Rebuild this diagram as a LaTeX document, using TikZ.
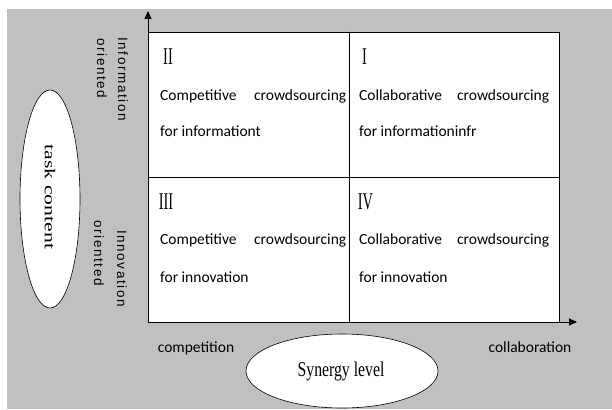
\documentclass[tikz,border=0pt]{standalone}
\usepackage{fontspec}
\setmainfont{Carlito}
\newfontfamily\serifR{Liberation Serif}
\newfontfamily\sideF[LetterSpace=12]{Liberation Sans}
\usetikzlibrary{shapes.geometric,arrows.meta}
\definecolor{bggray}{RGB}{192,192,192}
\tikzset{
  celltext/.style={font=\fontsize{15.5}{17}\selectfont, anchor=west, inner sep=0pt},
  numtext/.style={font=\serifR\fontsize{24}{26}\selectfont, inner sep=0pt, xscale=0.6},
  axislabel/.style={font=\fontsize{15.5}{17}\selectfont, inner sep=0pt},
  sidelabel/.style={font=\sideF\fontsize{13.5}{15}\selectfont, rotate=-90, anchor=west, inner sep=0pt},
  oval/.style={ellipse, draw=black, fill=white, line width=0.6pt, inner sep=0pt},
  axis/.style={line width=0.9pt, -{Triangle[length=8pt,width=7pt]}}
}
\begin{document}
\begin{tikzpicture}[x=1pt,y=-1pt]
\useasboundingbox (0,0) rectangle (612,409);
\fill[white] (0,0) rectangle (612,409);
\fill[bggray] (7,9) rectangle (612,409);
% grid
\draw[fill=white, line width=0.7pt] (148,32) rectangle (559,322);
\draw[line width=0.7pt] (349,32) -- (349,322);
\draw[line width=0.7pt] (148,177) -- (559,177);
% axes
\coordinate (O) at (148,322);
\coordinate (Ytip) at (148,11);
\coordinate (Xtip) at (577,322);
\draw[axis] (O) -- (Ytip);
\draw[axis] (O) -- (Xtip);
% numerals
\node[numtext] (n2) at (168,57) {II};
\node[numtext] (n1) at (364.5,56.5) {I};
\node[numtext] (n3) at (166,201.5) {III};
\node[numtext] (n4) at (365.5,201.5) {IV};
% cell texts
\node[celltext] (c2a) at (160,96) {\makebox[186pt][s]{Competitive\hfill crowdsourcing}};
\node[celltext] (c2b) at (160,131) {for informationt};
\node[celltext] (c1a) at (359,96) {\makebox[190pt][s]{Collaborative\hfill crowdsourcing}};
\node[celltext] (c1b) at (359,131) {for informationinfr};
\node[celltext] (c3a) at (160,240) {\makebox[186pt][s]{Competitive\hfill crowdsourcing}};
\node[celltext] (c3b) at (160,277) {for innovation};
\node[celltext] (c4a) at (359,240) {\makebox[190pt][s]{Collaborative\hfill crowdsourcing}};
\node[celltext] (c4b) at (359,277) {for innovation};
% axis labels
\node[axislabel] (comp) at (196,348) {competition};
\node[axislabel] (coll) at (530,347) {collaboration};
% side labels
\node[sidelabel] (inf1) at (123,37) {Information};
\node[sidelabel] (inf2) at (102,38) {oriented};
\node[sidelabel] (inn1) at (122,230) {Innovation};
\node[sidelabel] (inn2) at (99,220) {orientted};
% ovals
\node[oval, minimum width=60pt, minimum height=218pt] (task) at (50,199) {};
\node[font=\serifR\fontsize{15}{17}\selectfont, rotate=-90, inner sep=0pt] (tasktxt) at (50,197) {\scalebox{1.45}[1]{task content}};
\node[oval, minimum width=192pt, minimum height=74pt] (syn) at (342,371) {};
\node[font=\serifR\fontsize{21}{23}\selectfont, inner sep=0pt] (syntxt) at (341,371) {\scalebox{0.75}[1]{Synergy level}};
\end{tikzpicture}
\end{document}
